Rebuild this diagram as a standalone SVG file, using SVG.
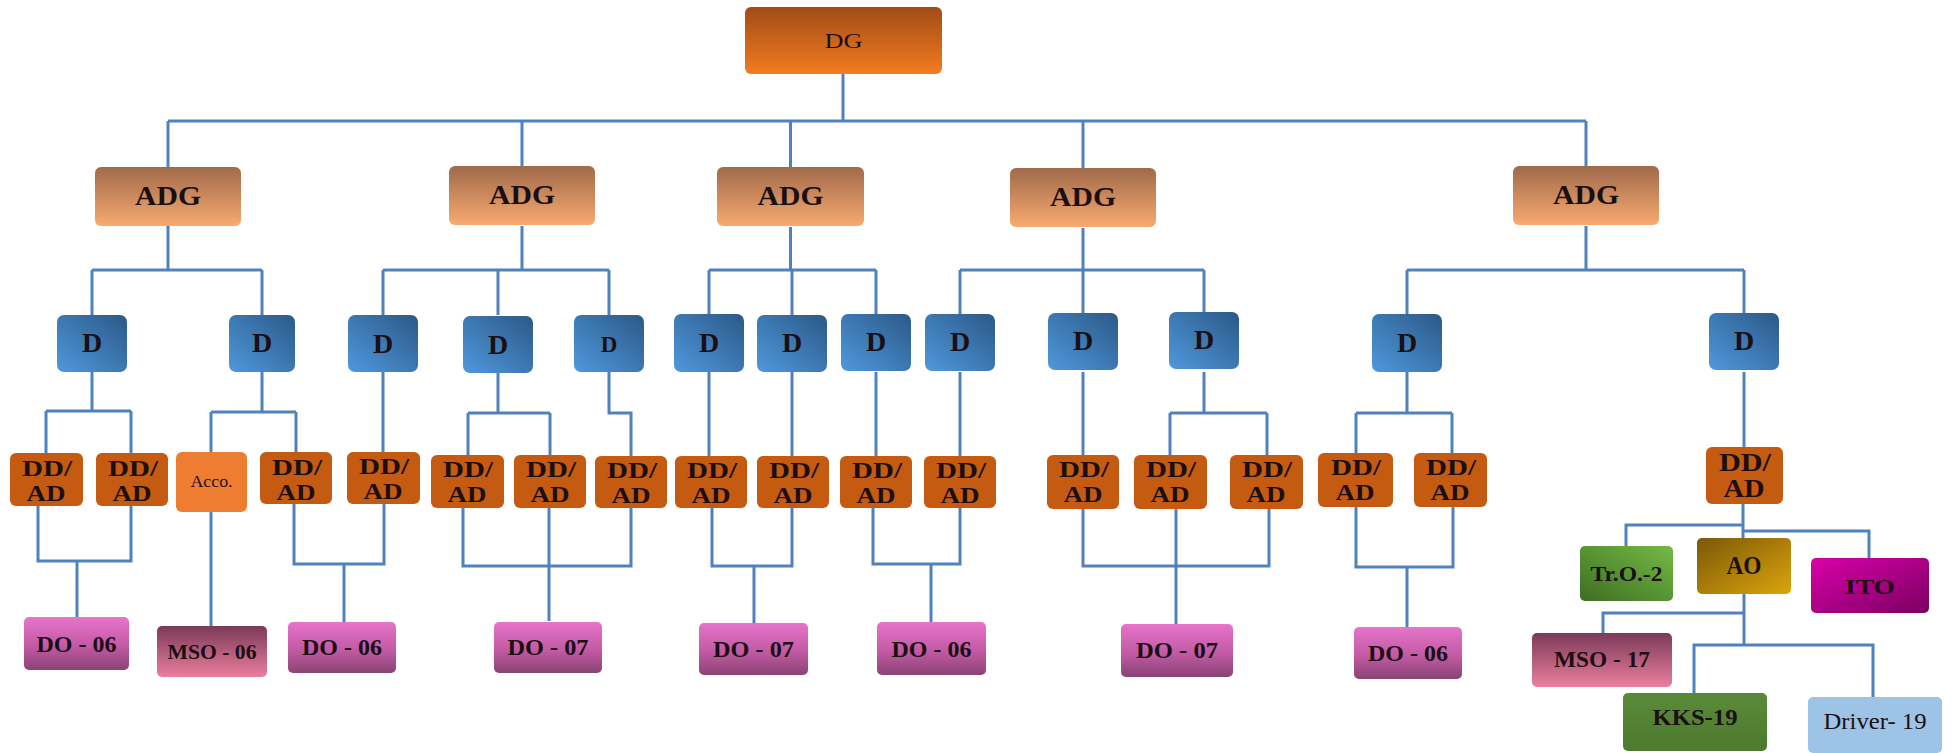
<svg xmlns="http://www.w3.org/2000/svg" width="1952" height="753" viewBox="0 0 1952 753">
<defs>
<linearGradient id="gDG" x1="0" y1="0" x2="0" y2="1"><stop offset="0" stop-color="#a04c16"/><stop offset="1" stop-color="#f47b20"/></linearGradient>
<linearGradient id="gADG" x1="0" y1="0" x2="0" y2="1"><stop offset="0" stop-color="#a06a4a"/><stop offset="1" stop-color="#f8aa70"/></linearGradient>
<linearGradient id="gD" x1="1" y1="0" x2="0" y2="1"><stop offset="0" stop-color="#2b5987"/><stop offset="1" stop-color="#4f98dd"/></linearGradient>
<linearGradient id="gDO" x1="0" y1="0" x2="0" y2="1"><stop offset="0" stop-color="#e674cb"/><stop offset="0.55" stop-color="#c25aa4"/><stop offset="1" stop-color="#8a4374"/></linearGradient>
<linearGradient id="gMSO" x1="0" y1="0" x2="0" y2="1"><stop offset="0" stop-color="#7b3a58"/><stop offset="1" stop-color="#ec7e9e"/></linearGradient>
<linearGradient id="gTr" x1="1" y1="0" x2="0" y2="1"><stop offset="0" stop-color="#74ba45"/><stop offset="1" stop-color="#3e6e22"/></linearGradient>
<linearGradient id="gAO" x1="0" y1="0" x2="1" y2="1"><stop offset="0" stop-color="#7a5806"/><stop offset="1" stop-color="#dca40e"/></linearGradient>
<linearGradient id="gITO" x1="0" y1="0" x2="1" y2="1"><stop offset="0" stop-color="#da00aa"/><stop offset="1" stop-color="#7a0060"/></linearGradient>
<linearGradient id="gKKS" x1="0" y1="0" x2="0" y2="1"><stop offset="0" stop-color="#5a8a39"/><stop offset="1" stop-color="#4c7a2e"/></linearGradient>
<style>
.ln{fill:none;stroke:#4f81bd;stroke-width:3}
.t{font-family:"Liberation Serif",serif;font-weight:bold;fill:#1c0f14;text-anchor:middle}
.r{font-weight:normal}
.dg{fill:url(#gDG)}
.adg{fill:url(#gADG)}
.d{fill:url(#gD)}
.dd{fill:#c55a11}
.acc{fill:#ee7d32}
.do{fill:url(#gDO)}
.mso{fill:url(#gMSO)}
</style>
</defs>
<rect width="1952" height="753" fill="#ffffff"/>

<g id="connectors" class="ln">
<path d="M843 74V121M168 121H1586M168 121V167M522 121V166M790.5 121V167M1083 121V168M1586 121V166"/>
<path d="M168 226V270M92 270H262M92 270V315M262 270V315"/>
<path d="M522 226V270M383 270H609M383 270V315M498 270V315M609 270V315"/>
<path d="M790.5 227V270M709 270H876M709 270V315M792 270V315M876 270V315"/>
<path d="M1083 228V270M960 270H1204M960 270V315M1083 270V315M1204 270V315"/>
<path d="M1586 226V270M1407 270H1744M1407 270V315M1744 270V315"/>
<path d="M92 372V411M46 411H131M46 411V453M131 411V453"/>
<path d="M262 372V412M211 412H296M211 412V452M296 412V452"/>
<path d="M383 372V452"/>
<path d="M498 372V413M468 413H550M468 413V455M550 413V455"/>
<path d="M609 372V413H631V456"/>
<path d="M709 372V456M792 372V456M876 372V456M960 372V456M1083 372V455"/>
<path d="M1204 372V413M1170 413H1267M1170 413V455M1267 413V455"/>
<path d="M1407 372V413M1356 413H1452M1356 413V453M1452 413V453"/>
<path d="M1744 372V447"/>
<path d="M38 506V561H131V506M77 561V617"/>
<path d="M211 512V626"/>
<path d="M294 504V564H384V504M344 564V622"/>
<path d="M463 508V566H631V508M549 508V621"/>
<path d="M712 507V566H792V508M754 566V623"/>
<path d="M873 508V564H960V508M931 564V622"/>
<path d="M1083 508V566H1269V508M1176 508V624"/>
<path d="M1356 507V567H1453V507M1407 567V627"/>
<path d="M1743 504V538M1626 546V525H1743M1743 531H1869V558"/>
<path d="M1744 594V645M1603 633V613H1744M1694 693V645H1873V697"/>
</g>

<g id="dg"><rect class="dg" x="745" y="7" width="197" height="67" rx="6"/><text class="t r" x="843.5" y="48" font-size="22" textLength="38" lengthAdjust="spacingAndGlyphs">DG</text></g>

<g id="adg1"><rect class="adg" x="95" y="167" width="146" height="59" rx="6"/><text class="t" x="168" y="205" font-size="27" textLength="66" lengthAdjust="spacingAndGlyphs">ADG</text></g>
<g id="adg2"><rect class="adg" x="449" y="166" width="146" height="59" rx="6"/><text class="t" x="522" y="204" font-size="27" textLength="66" lengthAdjust="spacingAndGlyphs">ADG</text></g>
<g id="adg3"><rect class="adg" x="717" y="167" width="147" height="59" rx="6"/><text class="t" x="790.5" y="205" font-size="27" textLength="66" lengthAdjust="spacingAndGlyphs">ADG</text></g>
<g id="adg4"><rect class="adg" x="1010" y="168" width="146" height="59" rx="6"/><text class="t" x="1083" y="206" font-size="27" textLength="66" lengthAdjust="spacingAndGlyphs">ADG</text></g>
<g id="adg5"><rect class="adg" x="1513" y="166" width="146" height="59" rx="6"/><text class="t" x="1586" y="204" font-size="27" textLength="66" lengthAdjust="spacingAndGlyphs">ADG</text></g>

<g id="d1"><rect class="d" x="57" y="315" width="70" height="57" rx="7"/><text class="t" x="92" y="352" font-size="28">D</text></g>
<g id="d2"><rect class="d" x="229" y="315" width="66" height="57" rx="7"/><text class="t" x="262" y="352" font-size="28">D</text></g>
<g id="d3"><rect class="d" x="348" y="315" width="70" height="57" rx="7"/><text class="t" x="383" y="353" font-size="28">D</text></g>
<g id="d4"><rect class="d" x="463" y="316" width="70" height="57" rx="7"/><text class="t" x="498" y="354" font-size="28">D</text></g>
<g id="d5"><rect class="d" x="574" y="315" width="70" height="57" rx="7"/><text class="t" x="609" y="352" font-size="23">D</text></g>
<g id="d6"><rect class="d" x="674" y="314" width="70" height="58" rx="7"/><text class="t" x="709" y="352" font-size="28">D</text></g>
<g id="d7"><rect class="d" x="757" y="315" width="70" height="57" rx="7"/><text class="t" x="792" y="352" font-size="28">D</text></g>
<g id="d8"><rect class="d" x="841" y="314" width="70" height="57" rx="7"/><text class="t" x="876" y="351" font-size="28">D</text></g>
<g id="d9"><rect class="d" x="925" y="314" width="70" height="57" rx="7"/><text class="t" x="960" y="351" font-size="28">D</text></g>
<g id="d10"><rect class="d" x="1048" y="313" width="70" height="57" rx="7"/><text class="t" x="1083" y="350" font-size="28">D</text></g>
<g id="d11"><rect class="d" x="1169" y="312" width="70" height="57" rx="7"/><text class="t" x="1204" y="349" font-size="28">D</text></g>
<g id="d12"><rect class="d" x="1372" y="314" width="70" height="58" rx="7"/><text class="t" x="1407" y="352" font-size="28">D</text></g>
<g id="d13"><rect class="d" x="1709" y="313" width="70" height="57" rx="7"/><text class="t" x="1744" y="350" font-size="28">D</text></g>

<g id="dd1"><rect class="dd" x="10" y="453" width="73" height="53" rx="6"/><text class="t" x="47" y="476" font-size="24" textLength="50" lengthAdjust="spacingAndGlyphs">DD/</text><text class="t" x="46" y="501" font-size="24" textLength="39" lengthAdjust="spacingAndGlyphs">AD</text></g>
<g id="dd2"><rect class="dd" x="96" y="453" width="72" height="53" rx="6"/><text class="t" x="133" y="476" font-size="24" textLength="50" lengthAdjust="spacingAndGlyphs">DD/</text><text class="t" x="132" y="501" font-size="24" textLength="39" lengthAdjust="spacingAndGlyphs">AD</text></g>
<g id="acco"><rect class="acc" x="176" y="452" width="71" height="60" rx="6"/><text class="t r" x="211.5" y="487" font-size="16" textLength="42" lengthAdjust="spacingAndGlyphs">Acco.</text></g>
<g id="dd3"><rect class="dd" x="260" y="452" width="72" height="52" rx="6"/><text class="t" x="297" y="475" font-size="24" textLength="50" lengthAdjust="spacingAndGlyphs">DD/</text><text class="t" x="296" y="500" font-size="24" textLength="39" lengthAdjust="spacingAndGlyphs">AD</text></g>
<g id="dd4"><rect class="dd" x="347" y="452" width="73" height="52" rx="6"/><text class="t" x="384" y="474" font-size="24" textLength="50" lengthAdjust="spacingAndGlyphs">DD/</text><text class="t" x="383" y="499" font-size="24" textLength="39" lengthAdjust="spacingAndGlyphs">AD</text></g>
<g id="dd5"><rect class="dd" x="431" y="455" width="73" height="53" rx="6"/><text class="t" x="468" y="477" font-size="24" textLength="50" lengthAdjust="spacingAndGlyphs">DD/</text><text class="t" x="467" y="502" font-size="24" textLength="39" lengthAdjust="spacingAndGlyphs">AD</text></g>
<g id="dd6"><rect class="dd" x="514" y="455" width="72" height="53" rx="6"/><text class="t" x="551" y="477" font-size="24" textLength="50" lengthAdjust="spacingAndGlyphs">DD/</text><text class="t" x="550" y="502" font-size="24" textLength="39" lengthAdjust="spacingAndGlyphs">AD</text></g>
<g id="dd7"><rect class="dd" x="595" y="456" width="72" height="52" rx="6"/><text class="t" x="632" y="478" font-size="24" textLength="50" lengthAdjust="spacingAndGlyphs">DD/</text><text class="t" x="631" y="503" font-size="24" textLength="39" lengthAdjust="spacingAndGlyphs">AD</text></g>
<g id="dd8"><rect class="dd" x="675" y="456" width="72" height="52" rx="6"/><text class="t" x="712" y="478" font-size="24" textLength="50" lengthAdjust="spacingAndGlyphs">DD/</text><text class="t" x="711" y="503" font-size="24" textLength="39" lengthAdjust="spacingAndGlyphs">AD</text></g>
<g id="dd9"><rect class="dd" x="757" y="456" width="72" height="52" rx="6"/><text class="t" x="794" y="478" font-size="24" textLength="50" lengthAdjust="spacingAndGlyphs">DD/</text><text class="t" x="793" y="503" font-size="24" textLength="39" lengthAdjust="spacingAndGlyphs">AD</text></g>
<g id="dd10"><rect class="dd" x="840" y="456" width="72" height="52" rx="6"/><text class="t" x="877" y="478" font-size="24" textLength="50" lengthAdjust="spacingAndGlyphs">DD/</text><text class="t" x="876" y="503" font-size="24" textLength="39" lengthAdjust="spacingAndGlyphs">AD</text></g>
<g id="dd11"><rect class="dd" x="924" y="456" width="72" height="52" rx="6"/><text class="t" x="961" y="478" font-size="24" textLength="50" lengthAdjust="spacingAndGlyphs">DD/</text><text class="t" x="960" y="503" font-size="24" textLength="39" lengthAdjust="spacingAndGlyphs">AD</text></g>
<g id="dd12"><rect class="dd" x="1047" y="455" width="72" height="54" rx="6"/><text class="t" x="1084" y="477" font-size="24" textLength="50" lengthAdjust="spacingAndGlyphs">DD/</text><text class="t" x="1083" y="502" font-size="24" textLength="39" lengthAdjust="spacingAndGlyphs">AD</text></g>
<g id="dd13"><rect class="dd" x="1134" y="455" width="73" height="54" rx="6"/><text class="t" x="1171" y="477" font-size="24" textLength="50" lengthAdjust="spacingAndGlyphs">DD/</text><text class="t" x="1170" y="502" font-size="24" textLength="39" lengthAdjust="spacingAndGlyphs">AD</text></g>
<g id="dd14"><rect class="dd" x="1230" y="455" width="73" height="54" rx="6"/><text class="t" x="1267" y="477" font-size="24" textLength="50" lengthAdjust="spacingAndGlyphs">DD/</text><text class="t" x="1266" y="502" font-size="24" textLength="39" lengthAdjust="spacingAndGlyphs">AD</text></g>
<g id="dd15"><rect class="dd" x="1318" y="453" width="75" height="54" rx="6"/><text class="t" x="1356" y="475" font-size="24" textLength="50" lengthAdjust="spacingAndGlyphs">DD/</text><text class="t" x="1355" y="500" font-size="24" textLength="39" lengthAdjust="spacingAndGlyphs">AD</text></g>
<g id="dd16"><rect class="dd" x="1414" y="453" width="73" height="54" rx="6"/><text class="t" x="1451" y="475" font-size="24" textLength="50" lengthAdjust="spacingAndGlyphs">DD/</text><text class="t" x="1450" y="500" font-size="24" textLength="39" lengthAdjust="spacingAndGlyphs">AD</text></g>
<g id="dd17"><rect class="dd" x="1706" y="447" width="77" height="57" rx="6"/><text class="t" x="1745" y="471" font-size="25" textLength="52" lengthAdjust="spacingAndGlyphs">DD/</text><text class="t" x="1744" y="497" font-size="25" textLength="41" lengthAdjust="spacingAndGlyphs">AD</text></g>

<g id="do1"><rect class="do" x="24" y="617" width="105" height="53" rx="5"/><text class="t" x="76.5" y="652" font-size="23" textLength="80" lengthAdjust="spacingAndGlyphs">DO - 06</text></g>
<g id="mso06"><rect class="mso" x="157" y="626" width="110" height="51" rx="5"/><text class="t" x="212" y="659" font-size="22" textLength="89" lengthAdjust="spacingAndGlyphs">MSO - 06</text></g>
<g id="do2"><rect class="do" x="288" y="622" width="108" height="51" rx="5"/><text class="t" x="342" y="655" font-size="23" textLength="80" lengthAdjust="spacingAndGlyphs">DO - 06</text></g>
<g id="do3"><rect class="do" x="494" y="622" width="108" height="51" rx="5"/><text class="t" x="548" y="655" font-size="23" textLength="81" lengthAdjust="spacingAndGlyphs">DO - 07</text></g>
<g id="do4"><rect class="do" x="699" y="623" width="109" height="52" rx="5"/><text class="t" x="753.5" y="657" font-size="23" textLength="81" lengthAdjust="spacingAndGlyphs">DO - 07</text></g>
<g id="do5"><rect class="do" x="877" y="622" width="109" height="53" rx="5"/><text class="t" x="931.5" y="657" font-size="23" textLength="80" lengthAdjust="spacingAndGlyphs">DO - 06</text></g>
<g id="do6"><rect class="do" x="1121" y="624" width="112" height="53" rx="5"/><text class="t" x="1177" y="658" font-size="23" textLength="82" lengthAdjust="spacingAndGlyphs">DO - 07</text></g>
<g id="do7"><rect class="do" x="1354" y="627" width="108" height="52" rx="5"/><text class="t" x="1408" y="661" font-size="23" textLength="80" lengthAdjust="spacingAndGlyphs">DO - 06</text></g>

<g id="tro"><rect fill="url(#gTr)" x="1580" y="546" width="93" height="55" rx="5"/><text class="t" x="1626.5" y="581" font-size="22" textLength="72" lengthAdjust="spacingAndGlyphs">Tr.O.-2</text></g>
<g id="ao"><rect fill="url(#gAO)" x="1697" y="538" width="94" height="56" rx="5"/><text class="t" x="1744" y="574" font-size="25" textLength="35" lengthAdjust="spacingAndGlyphs">AO</text></g>
<g id="ito"><rect fill="url(#gITO)" x="1811" y="558" width="118" height="55" rx="5"/><text class="t" x="1870" y="594" font-size="22" textLength="50" lengthAdjust="spacingAndGlyphs">ITO</text></g>
<g id="mso17"><rect class="mso" x="1532" y="633" width="140" height="54" rx="5"/><text class="t" x="1602" y="667" font-size="23" textLength="96" lengthAdjust="spacingAndGlyphs">MSO - 17</text></g>
<g id="kks"><rect fill="url(#gKKS)" x="1623" y="693" width="144" height="58" rx="5"/><text class="t" x="1695" y="725" font-size="23" textLength="85" lengthAdjust="spacingAndGlyphs">KKS-19</text></g>
<g id="driver"><rect fill="#9dc3e6" x="1808" y="697" width="134" height="56" rx="5"/><text class="t r" x="1875" y="729" font-size="23" textLength="103" lengthAdjust="spacingAndGlyphs">Driver- 19</text></g>
</svg>
